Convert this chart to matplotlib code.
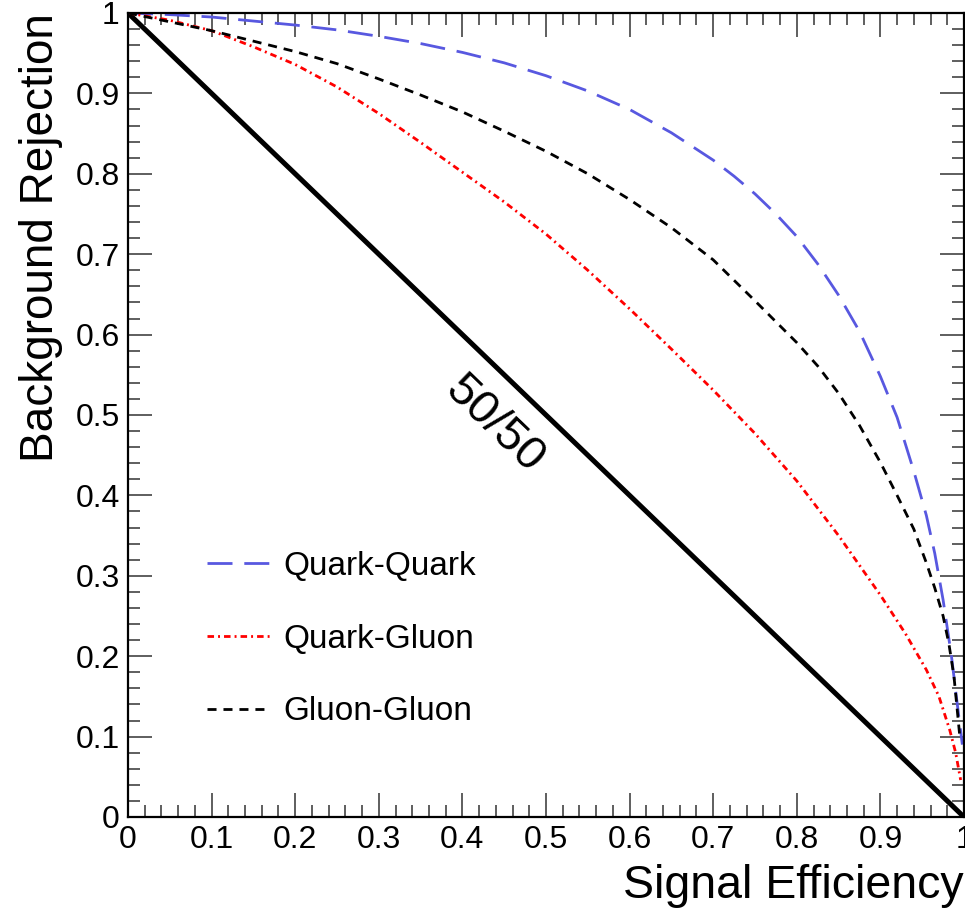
import matplotlib
matplotlib.use("Agg")
import matplotlib.pyplot as plt
import numpy as np
from matplotlib.ticker import MultipleLocator, FuncFormatter

plt.rcParams["font.family"] = ["Liberation Sans", "DejaVu Sans"]
plt.rcParams["lines.scale_dashes"] = False

# ROC curves: signal efficiency vs background rejection
qq_eff = [0.00, 0.05, 0.10, 0.15, 0.20, 0.25, 0.30, 0.35, 0.40, 0.45, 0.50, 0.55,
          0.60, 0.65, 0.70, 0.725, 0.75, 0.775, 0.80, 0.825, 0.85, 0.875, 0.90,
          0.92, 0.94, 0.955, 0.965, 0.975, 0.985, 0.992, 0.998]
qq_rej = [1.000, 0.998, 0.995, 0.990, 0.985, 0.979, 0.971, 0.962, 0.951, 0.938,
          0.922, 0.903, 0.880, 0.851, 0.817, 0.797, 0.775, 0.750, 0.722, 0.688,
          0.649, 0.604, 0.548, 0.497, 0.430, 0.375, 0.328, 0.270, 0.200, 0.140,
          0.090]

qg_eff = [0.00, 0.05, 0.10, 0.15, 0.20, 0.25, 0.30, 0.35, 0.40, 0.45, 0.50, 0.55,
          0.60, 0.65, 0.70, 0.75, 0.80, 0.85, 0.90, 0.93, 0.955, 0.97, 0.983,
          0.99, 0.996]
qg_rej = [1.000, 0.991, 0.978, 0.958, 0.936, 0.908, 0.875, 0.839, 0.802, 0.765,
          0.725, 0.680, 0.632, 0.582, 0.531, 0.477, 0.418, 0.350, 0.276, 0.228,
          0.183, 0.150, 0.108, 0.080, 0.046]

gg_eff = [0.00, 0.05, 0.10, 0.15, 0.20, 0.25, 0.30, 0.35, 0.40, 0.45, 0.50, 0.55,
          0.60, 0.65, 0.70, 0.75, 0.80, 0.825, 0.85, 0.875, 0.90, 0.92, 0.94,
          0.955, 0.965, 0.975, 0.982, 0.988, 0.995]
gg_rej = [1.000, 0.989, 0.978, 0.965, 0.952, 0.937, 0.918, 0.898, 0.877, 0.853,
          0.828, 0.800, 0.768, 0.733, 0.693, 0.642, 0.590, 0.561, 0.527, 0.487,
          0.441, 0.400, 0.358, 0.316, 0.285, 0.250, 0.215, 0.175, 0.100]

random_eff = [0, 1]
random_rej = [1, 0]

W, H = 965, 923
fig = plt.figure(figsize=(W / 100, H / 100), dpi=100)
ax = fig.add_axes([128 / W, 106 / H, 836 / W, 804 / H])

ax.plot(random_eff, random_rej, color="black", lw=3.6, solid_capstyle="butt")
ax.plot(qq_eff, qq_rej, color="#5858e0", lw=2.0,
        dashes=(18, 8.5), label="Quark-Quark")
ax.plot(qg_eff, qg_rej, color="red", lw=2.0,
        dashes=(4.7, 2.9, 1.4, 2.9), label="Quark-Gluon")
ax.plot(gg_eff, gg_rej, color="black", lw=2.0,
        dashes=(6.5, 5), label="Gluon-Gluon")

ax.text(0.438, 0.488, "50/50", fontsize=34, rotation=-43.9,
        rotation_mode="anchor", ha="center", va="center")

ax.set_xlim(0, 1)
ax.set_ylim(0, 1)
ax.xaxis.set_major_locator(MultipleLocator(0.1))
ax.xaxis.set_minor_locator(MultipleLocator(0.02))
ax.yaxis.set_major_locator(MultipleLocator(0.1))
ax.yaxis.set_minor_locator(MultipleLocator(0.02))
fmt = FuncFormatter(lambda v, p: "%g" % round(v, 2))
ax.xaxis.set_major_formatter(fmt)
ax.yaxis.set_major_formatter(fmt)

ax.tick_params(which="both", direction="in", top=True, right=True,
               labelsize=23, width=1.1, color="#333333")
ax.tick_params(which="major", length=17.3, pad=6)
ax.tick_params(which="minor", length=8.6)
for s in ax.spines.values():
    s.set_linewidth(1.6)

ax.set_xlabel("Signal Efficiency", fontsize=33.5, loc="right", labelpad=6)
ax.set_ylabel("Background Rejection", fontsize=33, loc="top", labelpad=9)

ax.legend(loc="upper left", bbox_to_anchor=(0.0945, 0.331), frameon=False,
          fontsize=24, handlelength=1.9, handletextpad=0.4, labelspacing=1.25,
          borderpad=0, borderaxespad=0)

fig.savefig("out.png", dpi=100)
